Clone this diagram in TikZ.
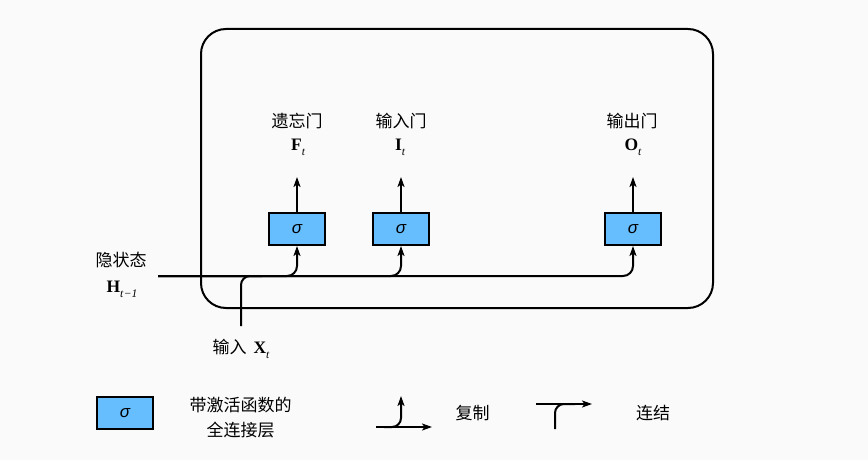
\documentclass[tikz,border=0pt]{standalone}
\usepackage{fontspec}
\setmainfont{Liberation Serif}
\newfontfamily\cjk{Noto Sans CJK SC}
\newfontfamily\sigfont{Liberation Sans}
\usetikzlibrary{arrows.meta}
\definecolor{boxblue}{RGB}{102,190,255}
\definecolor{bg}{RGB}{250,250,250}
\newcommand\vsub[2]{\textbf{#1}\raisebox{-0.3em}{\fontsize{11.5}{11.5}\selectfont\itshape #2}}
\newcommand\sig{{\sigfont\itshape σ}}
\tikzset{
  wire/.style={line width=2pt, black},
  tip/.style={-{Stealth[length=10pt,width=7pt,inset=2.5pt]}},
  arr/.style={wire, tip},
  uparr/.style={line width=2pt, black, tip},
  sigbox/.style={draw=black, line width=2pt, fill=boxblue, minimum width=56pt, minimum height=32pt, inner sep=0pt, font=\fontsize{17}{17}\selectfont},
  cn/.style={font=\cjk\fontsize{17}{17}\selectfont, inner sep=0pt},
  mt/.style={font=\fontsize{17.5}{17.5}\selectfont, inner sep=0pt},
}
\begin{document}
\begin{tikzpicture}[x=1pt,y=-1pt]
\useasboundingbox (0,0) rectangle (868,460);
\fill[bg] (0,0) rectangle (868,460);
% cell frame
\draw[wire, rounded corners=25pt] (201,29) rectangle (713,308);
% gate boxes
\node[sigbox] (f) at (297,229) {\sig};
\node[sigbox] (i) at (401,229) {\sig};
\node[sigbox] (o) at (633,229) {\sig};
% outputs
\coordinate (fo) at (297,177);
\coordinate (io) at (401,177);
\coordinate (oo) at (633,177);
\draw[uparr] (f.north) -- (fo);
\draw[uparr] (i.north) -- (io);
\draw[uparr] (o.north) -- (oo);
\node[cn] (fl) at (297,121) {遗忘门};
\node[mt] (fv) at (298,147) {\vsub{F}{t}};
\node[cn] (il) at (401,121) {输入门};
\node[mt] (iv) at (400,147) {\vsub{I}{t}};
\node[cn] (ol) at (632,121) {输出门};
\node[mt] (ov) at (633,147) {\vsub{O}{t}};
% hidden state
\node[cn] (hl) at (121,260) {隐状态};
\node[mt] (hv) at (122,289) {\vsub{H}{t\kern0.5pt−1}};
\coordinate (hs) at (158,276);
\draw[arr, rounded corners=10pt] (hs) -| (o.south);
\draw[arr, rounded corners=10pt] (hs) -| (i.south);
\draw[arr, rounded corners=10pt] (hs) -| (f.south);
% input
\coordinate (xs) at (241,326);
\coordinate (xj) at (262,276);
\draw[wire, rounded corners=9pt] (xs) |- (xj);
\node[anchor=center, inner sep=0pt] (xl) at (241,349) {{\cjk\fontsize{17}{17}\selectfont 输入}\hspace{7pt}{\fontsize{17.5}{17.5}\selectfont\vsub{X}{t}}};
% legend
\node[sigbox] (lb) at (125,413) {\sig};
\node[cn, align=center] (lt) at (240.5,418) {带激活函数的\\[8pt]全连接层};
\coordinate (ca) at (376,427);
\coordinate (cb) at (432,427);
\coordinate (cc) at (384,427);
\coordinate (cd) at (401,396);
\draw[arr] (ca) -- (cb);
\draw[arr, rounded corners=9pt] (cc) -| (cd);
\node[cn] (cl) at (472.7,413) {复制};
\coordinate (ka) at (536,404);
\coordinate (kb) at (592,404);
\coordinate (kc) at (555,429);
\coordinate (kd) at (575,404);
\draw[arr] (ka) -- (kb);
\draw[wire, rounded corners=9pt] (kc) |- (kd);
\node[cn] (kl) at (653,413) {连结};
\end{tikzpicture}
\end{document}
